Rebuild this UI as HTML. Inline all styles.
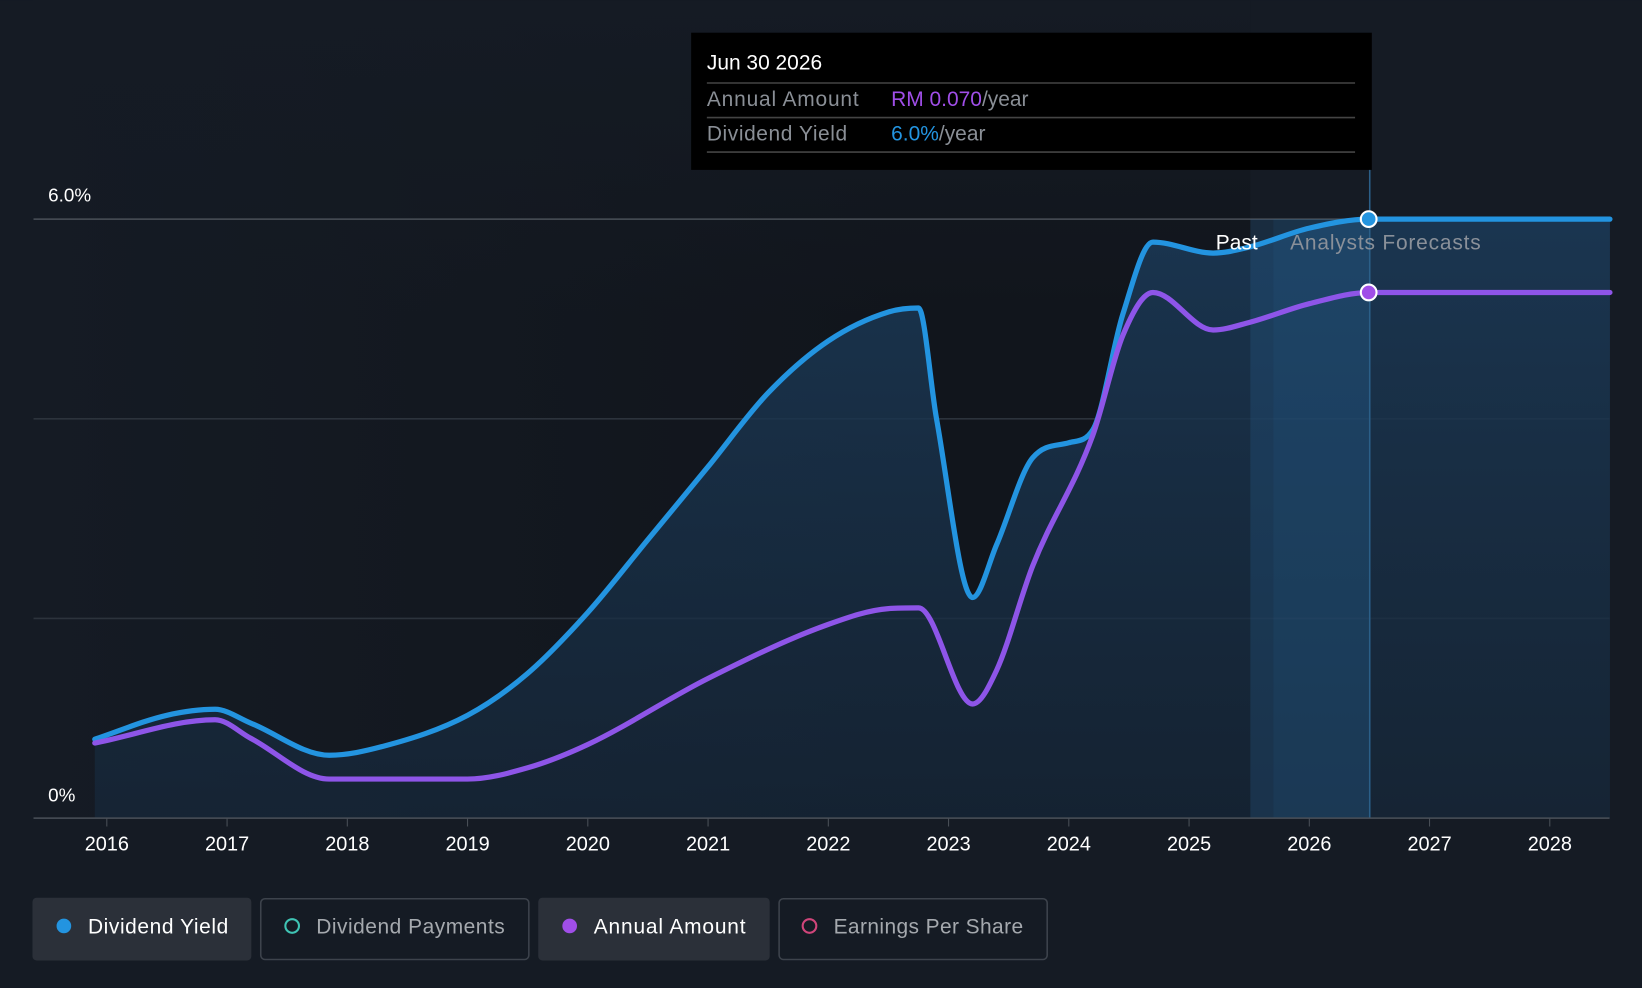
<!DOCTYPE html>
<html><head><meta charset="utf-8"><style>
html,body{margin:0;padding:0;background:#151b24;}
svg{display:block;font-family:"Liberation Sans",sans-serif;}
</style></head><body>
<svg id="chart" width="1642" height="988" viewBox="0 0 1568 943" xmlns="http://www.w3.org/2000/svg">
<defs>
<linearGradient id="ag" x1="0" y1="0" x2="0" y2="1"><stop offset="0" stop-color="#1b3a58" stop-opacity="0.85"/><stop offset="1" stop-color="#16283b" stop-opacity="0.7"/></linearGradient>
<linearGradient id="bg" x1="0" y1="0" x2="1" y2="0"><stop offset="0" stop-color="#151b24"/><stop offset="0.7" stop-color="#11151c"/></linearGradient>
<linearGradient id="bgv" x1="0" y1="0" x2="0" y2="1"><stop offset="0" stop-color="#151b24"/><stop offset="1" stop-color="#151b24" stop-opacity="0"/></linearGradient>
</defs>
<rect x="0" y="0" width="1568" height="943" fill="#151b24"/>
<rect x="32" y="0" width="1162" height="781" fill="url(#bg)"/>
<rect x="32" y="0" width="1162" height="300" fill="url(#bgv)"/>
<g id="grid"></g>
<path id="area" fill="url(#ag)"/>
<rect x="1194" y="209" width="114" height="572" fill="#2a6a9e" opacity="0.22"/>
<rect x="1216" y="209" width="92" height="572" fill="#2a6a9e" opacity="0.12"/>
<line x1="1308" y1="160" x2="1308" y2="781" stroke="#2b5f88" stroke-width="1.5"/>
<path id="yieldLine" fill="none" stroke="#2394e0" stroke-width="5" stroke-linecap="round"/>
<path id="amtLine" fill="none" stroke="#8e55e8" stroke-width="5" stroke-linecap="round"/>
<line x1="32" y1="781" x2="1537" y2="781" stroke="#4a5058" stroke-width="1.5"/>
<g id="xt"></g>
<text x="46" y="192" fill="#fff" font-size="18">6.0%</text>
<text x="46" y="765" fill="#fff" font-size="18">0%</text>
<text x="1201" y="238" fill="#fff" font-size="20" text-anchor="end">Past</text>
<text x="1232" y="238" fill="#8a9099" font-size="20" textLength="182">Analysts Forecasts</text>
<circle cx="1307" cy="209" r="7.5" fill="#2394e0" stroke="#fff" stroke-width="2"/>
<circle cx="1307" cy="279" r="7.5" fill="#a04ee8" stroke="#fff" stroke-width="2"/>
<g>
<rect x="660" y="31" width="650" height="131" fill="#000"/>
<text x="675" y="66" fill="#fff" font-size="20">Jun 30 2026</text>
<line x1="675" y1="79" x2="1294" y2="79" stroke="#444" stroke-width="1.5"/>
<text x="675" y="101" fill="#8a8f96" font-size="20" textLength="145">Annual Amount</text>
<text x="851" y="101" font-size="20"><tspan fill="#a04ee8">RM 0.070</tspan><tspan fill="#8a8f96">/year</tspan></text>
<line x1="675" y1="112" x2="1294" y2="112" stroke="#444" stroke-width="1.5"/>
<text x="675" y="134" fill="#8a8f96" font-size="20" textLength="134">Dividend Yield</text>
<text x="851" y="134" font-size="20"><tspan fill="#2394e0">6.0%</tspan><tspan fill="#8a8f96">/year</tspan></text>
<line x1="675" y1="145" x2="1294" y2="145" stroke="#444" stroke-width="1.5"/>
</g>
<g font-size="20">
<g><rect x="31" y="857" width="209" height="60" rx="4" fill="#2b3039"/><circle cx="61" cy="884" r="7" fill="#2394e0"/><text x="84" y="891" fill="#fff" textLength="134">Dividend Yield</text></g>
<g><rect x="249" y="858" width="256" height="58" rx="4" fill="none" stroke="#3d434c" stroke-width="1.5"/><circle cx="279" cy="884" r="6.5" fill="none" stroke="#3fc4b4" stroke-width="2"/><text x="302" y="891" fill="#a5a9ae" textLength="180">Dividend Payments</text></g>
<g><rect x="514" y="857" width="221" height="60" rx="4" fill="#2b3039"/><circle cx="544" cy="884" r="7" fill="#a04ee8"/><text x="567" y="891" fill="#fff" textLength="145">Annual Amount</text></g>
<g><rect x="744" y="858" width="256" height="58" rx="4" fill="none" stroke="#3d434c" stroke-width="1.5"/><circle cx="773" cy="884" r="6.5" fill="none" stroke="#d0457a" stroke-width="2"/><text x="796" y="891" fill="#a5a9ae" textLength="181">Earnings Per Share</text></g>
</g>
</svg>
<script>
const yieldYears=[2015.9,2016.5,2016.9,2017.2,2017.85,2018.3,2019.0,2019.5,2020.0,2020.5,2021,2021.5,2022,2022.5,2022.75,2022.9,2023.2,2023.4,2023.7,2024.0,2024.2,2024.45,2024.7,2025.2,2025.5,2026.0,2026.5,2028.5];
const yieldPct=[0.79,1.03,1.09,0.95,0.63,0.72,1.03,1.45,2.06,2.79,3.52,4.26,4.78,5.07,5.11,4.0,2.21,2.74,3.61,3.76,3.89,5.05,5.77,5.66,5.72,5.91,6.0,6.0];
const amtYears=[2015.9,2016.9,2017.2,2017.85,2019.0,2019.5,2020,2021,2022,2022.5,2022.75,2023.2,2023.4,2023.7,2024.2,2024.45,2024.7,2025.2,2025.5,2026.0,2026.5,2028.5];
const amtRM=[0.0100,0.0131,0.0106,0.0052,0.0052,0.0067,0.0098,0.0186,0.0258,0.0279,0.0280,0.0152,0.0197,0.0336,0.0510,0.0643,0.0700,0.0650,0.0660,0.0685,0.0700,0.0700];
const xTicks=[2016,2017,2018,2019,2020,2021,2022,2023,2024,2025,2026,2027,2028];
const gridPct=[2,4,6];
const X=y=>102+(y-2016)*114.83;
const Y=p=>781-p*95.33;
const YA=v=>781-v*7171;
function mono(xs,ys){const n=xs.length,d=[],m=[];for(let i=0;i<n-1;i++)d.push((ys[i+1]-ys[i])/(xs[i+1]-xs[i]));m[0]=d[0];m[n-1]=d[n-2];for(let i=1;i<n-1;i++)m[i]=d[i-1]*d[i]<=0?0:(d[i-1]+d[i])/2;
for(let i=0;i<n-1;i++){if(d[i]===0){m[i]=0;m[i+1]=0;continue;}const a=m[i]/d[i],b=m[i+1]/d[i],s=a*a+b*b;if(s>9){const t=3/Math.sqrt(s);m[i]=t*a*d[i];m[i+1]=t*b*d[i];}}
let p=`M${xs[0]},${ys[0]}`;for(let i=0;i<n-1;i++){const h=(xs[i+1]-xs[i])/3;p+=` C${xs[i]+h},${ys[i]+m[i]*h} ${xs[i+1]-h},${ys[i+1]-m[i+1]*h} ${xs[i+1]},${ys[i+1]}`;}return p;}
const yp=mono(yieldYears.map(X),yieldPct.map(Y));
document.getElementById('yieldLine').setAttribute('d',yp);
document.getElementById('area').setAttribute('d',yp+` L${X(2028.5)},781 L${X(2015.9)},781 Z`);
document.getElementById('amtLine').setAttribute('d',mono(amtYears.map(X),amtRM.map(YA)));
const ns='http://www.w3.org/2000/svg';
const g=document.getElementById('grid');
gridPct.forEach(p=>{const l=document.createElementNS(ns,'line');


l.setAttribute('x1',32);l.setAttribute('x2',1537);l.setAttribute('y1',Y(p));l.setAttribute('y2',Y(p));l.setAttribute('stroke',p===6?'#4a5058':'#2c333c');l.setAttribute('stroke-width',1.5);g.appendChild(l);});
const xt=document.getElementById('xt');
xTicks.forEach(t=>{const l=document.createElementNS(ns,'line');


l.setAttribute('x1',X(t));l.setAttribute('x2',X(t));l.setAttribute('y1',781);l.setAttribute('y2',789);l.setAttribute('stroke','#4a5058');xt.appendChild(l);
const tx=document.createElementNS(ns,'text');


tx.setAttribute('x',X(t));tx.setAttribute('y',812);tx.setAttribute('fill','#fff');tx.setAttribute('font-size','19');tx.setAttribute('text-anchor','middle');tx.textContent=t;xt.appendChild(tx);});
</script>
</body></html>
